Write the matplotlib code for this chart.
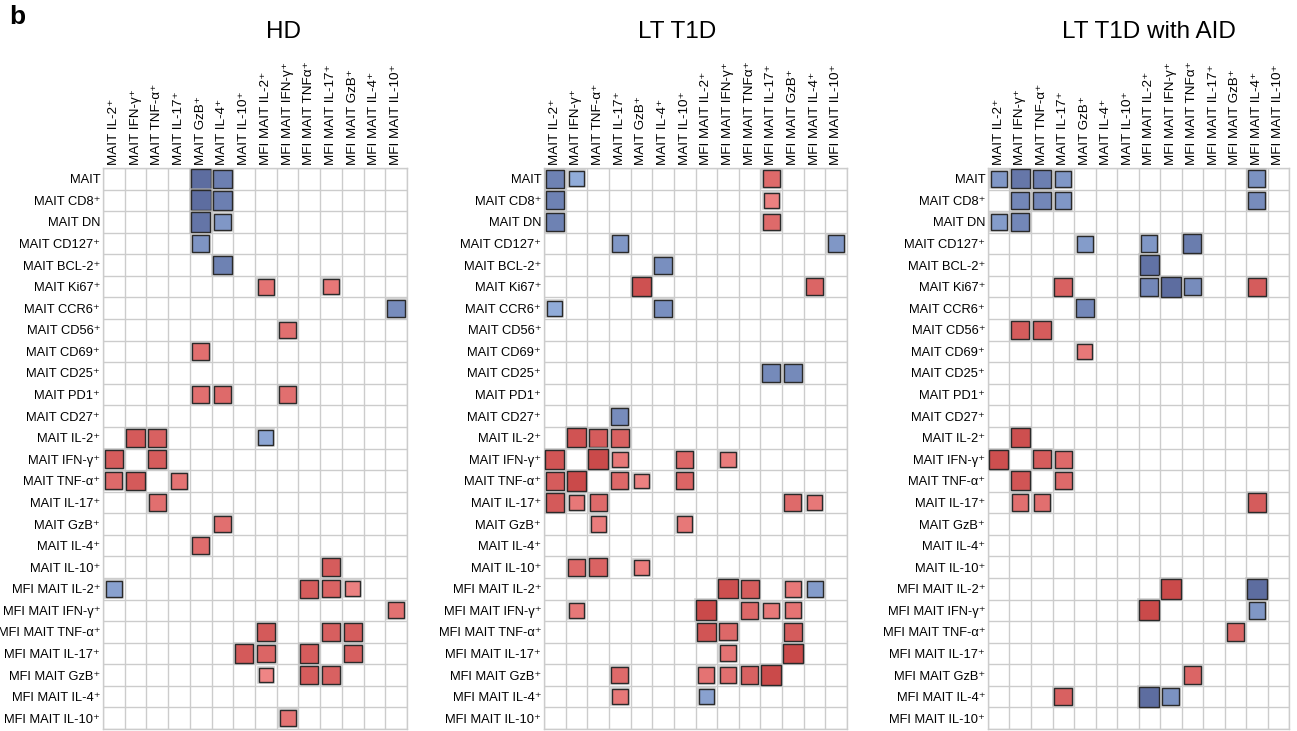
import numpy as np
import matplotlib.pyplot as plt
from matplotlib.patches import Rectangle
from matplotlib import patheffects as pe
from matplotlib.colors import to_rgb

plt.rcParams['font.family'] = ['Liberation Sans', 'DejaVu Sans']

rows = ['MAIT', 'MAIT CD8⁺', 'MAIT DN', 'MAIT CD127⁺', 'MAIT BCL-2⁺', 'MAIT Ki67⁺',
        'MAIT CCR6⁺', 'MAIT CD56⁺', 'MAIT CD69⁺', 'MAIT CD25⁺', 'MAIT PD1⁺', 'MAIT CD27⁺',
        'MAIT IL-2⁺', 'MAIT IFN-γ⁺', 'MAIT TNF-α⁺', 'MAIT IL-17⁺', 'MAIT GzB⁺', 'MAIT IL-4⁺',
        'MAIT IL-10⁺', 'MFI MAIT IL-2⁺', 'MFI MAIT IFN-γ⁺', 'MFI MAIT TNF-α⁺',
        'MFI MAIT IL-17⁺', 'MFI MAIT GzB⁺', 'MFI MAIT IL-4⁺', 'MFI MAIT IL-10⁺']
cols = ['MAIT IL-2⁺', 'MAIT IFN-γ⁺', 'MAIT TNF-α⁺', 'MAIT IL-17⁺', 'MAIT GzB⁺', 'MAIT IL-4⁺',
        'MAIT IL-10⁺', 'MFI MAIT IL-2⁺', 'MFI MAIT IFN-γ⁺', 'MFI MAIT TNFα⁺', 'MFI MAIT IL-17⁺',
        'MFI MAIT GzB⁺', 'MFI MAIT IL-4⁺', 'MFI MAIT IL-10⁺']

# significant correlations: (row, column, r)
hd = [(0, 4, -0.90), (0, 5, -0.83), (1, 4, -0.90), (1, 5, -0.83), (2, 4, -0.87), (2, 5, -0.74),
      (3, 4, -0.75), (4, 5, -0.82), (5, 7, 0.72), (5, 10, 0.70), (6, 13, -0.78), (7, 8, 0.74),
      (8, 4, 0.74), (10, 4, 0.74), (10, 5, 0.76), (10, 8, 0.74),
      (12, 1, 0.83), (12, 2, 0.80), (12, 7, -0.68), (13, 0, 0.82), (13, 2, 0.82),
      (14, 0, 0.76), (14, 1, 0.83), (14, 3, 0.72), (15, 2, 0.74), (16, 5, 0.74), (17, 4, 0.75),
      (18, 10, 0.82), (19, 0, -0.70), (19, 9, 0.82), (19, 10, 0.79), (19, 11, 0.66),
      (20, 13, 0.73), (21, 7, 0.83), (21, 10, 0.81), (21, 11, 0.82),
      (22, 6, 0.83), (22, 7, 0.78), (22, 9, 0.82), (22, 11, 0.81),
      (23, 7, 0.64), (23, 9, 0.82), (23, 10, 0.80), (25, 8, 0.72)]

lt_t1d = [(0, 0, -0.82), (0, 1, -0.66), (0, 10, 0.76), (1, 0, -0.82), (1, 10, 0.66),
          (2, 0, -0.82), (2, 10, 0.76), (3, 3, -0.74), (3, 13, -0.74), (4, 5, -0.77),
          (5, 4, 0.87), (5, 12, 0.78), (6, 0, -0.66), (6, 5, -0.77), (9, 10, -0.79), (9, 11, -0.79),
          (11, 3, -0.78), (12, 1, 0.86), (12, 2, 0.82), (12, 3, 0.80),
          (13, 0, 0.85), (13, 2, 0.90), (13, 3, 0.70), (13, 6, 0.77), (13, 8, 0.68),
          (14, 0, 0.82), (14, 1, 0.90), (14, 3, 0.77), (14, 4, 0.66), (14, 6, 0.78),
          (15, 0, 0.83), (15, 1, 0.70), (15, 2, 0.76), (15, 11, 0.76), (15, 12, 0.70),
          (16, 2, 0.68), (16, 6, 0.70), (18, 1, 0.77), (18, 2, 0.79), (18, 4, 0.68),
          (19, 8, 0.88), (19, 9, 0.82), (19, 11, 0.70), (19, 12, -0.72),
          (20, 1, 0.70), (20, 7, 0.90), (20, 9, 0.77), (20, 10, 0.70), (20, 11, 0.72),
          (21, 7, 0.85), (21, 8, 0.77), (21, 11, 0.82), (22, 8, 0.72), (22, 11, 0.90),
          (23, 3, 0.76), (23, 7, 0.72), (23, 8, 0.74), (23, 9, 0.80), (23, 10, 0.90),
          (24, 3, 0.70), (24, 7, -0.70)]

lt_t1d_aid = [(0, 0, -0.74), (0, 1, -0.86), (0, 2, -0.83), (0, 3, -0.74), (0, 12, -0.76),
              (1, 1, -0.80), (1, 2, -0.80), (1, 3, -0.74), (1, 12, -0.78),
              (2, 0, -0.72), (2, 1, -0.80), (3, 4, -0.72), (3, 7, -0.74), (3, 9, -0.84),
              (4, 7, -0.88), (5, 3, 0.80), (5, 7, -0.80), (5, 8, -0.92), (5, 9, -0.78), (5, 12, 0.82),
              (6, 4, -0.80), (7, 1, 0.82), (7, 2, 0.82), (8, 4, 0.70), (12, 1, 0.88),
              (13, 0, 0.88), (13, 2, 0.82), (13, 3, 0.76), (14, 1, 0.85), (14, 3, 0.76),
              (15, 1, 0.74), (15, 2, 0.74), (15, 12, 0.82), (19, 8, 0.90), (19, 12, -0.90),
              (20, 7, 0.90), (20, 12, -0.74), (21, 11, 0.78), (23, 9, 0.78),
              (24, 3, 0.80), (24, 7, -0.90), (24, 8, -0.76)]

panels = [('HD', hd), ('LT T1D', lt_t1d), ('LT T1D with AID', lt_t1d_aid)]

red_lo, red_hi = np.array(to_rgb('#F28A8A')), np.array(to_rgb('#CA4A4A'))
blue_lo, blue_hi = np.array(to_rgb('#9AB6E2')), np.array(to_rgb('#5D6DA0'))


def cell_color(r):
    t = np.clip((abs(r) - 0.62) / 0.28, 0, 1)
    if r > 0:
        return red_lo + t * (red_hi - red_lo)
    return blue_lo + t * (blue_hi - blue_lo)


W, H = 1297, 731
fig = plt.figure(figsize=(W / 100, H / 100), dpi=100)

axes_px = [(103, 407), (544, 847), (988, 1289)]
title_x = [283, 677, 1149]
top, bottom = 168, 729

for (name, data), (x0, x1), tx in zip(panels, axes_px, title_x):
    ax = fig.add_axes([x0 / W, 1 - bottom / H, (x1 - x0) / W, (bottom - top) / H])
    ax.set_xlim(0, len(cols))
    ax.set_ylim(len(rows), 0)

    # light grid
    ax.set_xticks(np.arange(len(cols) + 1), minor=True)
    ax.set_yticks(np.arange(len(rows) + 1), minor=True)
    ax.grid(which='minor', color='#cccccc', lw=1.0)
    ax.tick_params(which='minor', length=0)
    for s in ax.spines.values():
        s.set_color('#cccccc')
        s.set_linewidth(1.0)

    ax.set_xticks(np.arange(len(cols)) + 0.5)
    ax.set_xticklabels(cols, rotation=90, fontsize=9.7)
    ax.xaxis.tick_top()
    ax.set_yticks(np.arange(len(rows)) + 0.5)
    ax.set_yticklabels(rows, fontsize=9.3)
    ax.tick_params(which='major', length=0, pad=2)

    for i, j, r in data:
        s = abs(r) + 0.02
        sq = Rectangle((j + 0.5 - s / 2, i + 0.5 - s / 2), s, s,
                       facecolor=cell_color(r), edgecolor='#2a2a2a', lw=1.0, zorder=3)
        sq.set_path_effects([pe.Stroke(linewidth=2.6, foreground='#bbbbbb', alpha=0.7), pe.Normal()])
        ax.add_patch(sq)

    fig.text(tx / W, 1 - 32 / H, name, ha='center', va='center', fontsize=17.5)

fig.text(9 / W, 1 - 17 / H, 'b', ha='left', va='center', fontsize=19, fontweight='bold')

fig.savefig('out.png', dpi=100)
